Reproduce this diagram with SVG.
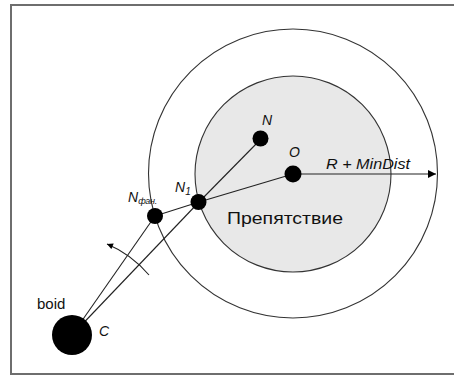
<svg xmlns="http://www.w3.org/2000/svg" width="454" height="376" viewBox="0 0 454 376">
<style>
.frame{fill:none;stroke:#6e6e6e;stroke-width:2}
.ring{fill:none;stroke:#333;stroke-width:1.1}
.obst{fill:#e8e8e8;stroke:#333;stroke-width:1.1}
.dot{fill:#000}
.ln{stroke:#222;stroke-width:1.1;fill:none}
.lbl{font-family:"Liberation Sans",Arial,sans-serif;fill:#111}
.it{font-style:italic}
</style>
<defs>
<marker id="ah" viewBox="0 0 10 10" refX="10" refY="5" markerWidth="10" markerHeight="8" markerUnits="userSpaceOnUse" orient="auto">
<path d="M0,0 L10,5 L0,10 Z" fill="#000"/>
</marker>
<marker id="ah2" viewBox="0 0 10 10" refX="10" refY="5" markerWidth="8" markerHeight="6" markerUnits="userSpaceOnUse" orient="auto">
<path d="M0,0 L10,5 L0,10 Z" fill="#000"/>
</marker>
</defs>
<rect class="frame" x="11" y="5" width="446" height="369"/>
<g id="zone">
<circle class="ring" cx="293" cy="173.5" r="144.5"/>
</g>
<g id="obstacle">
<circle class="obst" cx="293" cy="174" r="98"/>
<text class="lbl" x="227" y="224" font-size="16" textLength="116" lengthAdjust="spacingAndGlyphs">Препятствие</text>
</g>
<g id="connectors">
<line class="ln" x1="199" y1="202" x2="261" y2="139"/>
<line class="ln" x1="199" y1="202" x2="293" y2="174"/>
<line class="ln" x1="199" y1="202" x2="155" y2="216"/>
<line class="ln" x1="72" y1="335" x2="199" y2="202"/>
<line class="ln" x1="72" y1="335" x2="155" y2="216"/>
<line class="ln" x1="293" y1="174" x2="436" y2="174" marker-end="url(#ah)"/>
<path class="ln" d="M149,275 Q131,254 107,244" marker-end="url(#ah2)"/>
</g>
<g id="node-O">
<circle class="dot" cx="293" cy="174" r="8.5"/>
<text class="lbl it" x="289" y="157" font-size="14">O</text>
</g>
<g id="label-R">
<text class="lbl it" x="326" y="169" font-size="15.5" textLength="84" lengthAdjust="spacingAndGlyphs">R + MinDist</text>
</g>
<g id="node-N">
<circle class="dot" cx="260.5" cy="138.5" r="8"/>
<text class="lbl it" x="262" y="125" font-size="14">N</text>
</g>
<g id="node-N1">
<circle class="dot" cx="198.5" cy="202" r="8"/>
<text class="lbl it" x="175" y="192" font-size="14">N<tspan font-size="10" dy="3">1</tspan></text>
</g>
<g id="node-Nfan">
<circle class="dot" cx="155" cy="216" r="8"/>
<text class="lbl it" x="128" y="202" font-size="14">N<tspan font-size="9" dy="2" letter-spacing="-0.3">фан.</tspan></text>
</g>
<g id="node-boid">
<circle class="dot" cx="72" cy="335" r="20"/>
<text class="lbl" x="37" y="309" font-size="15">boid</text>
<text class="lbl it" x="99" y="336" font-size="14">C</text>
</g>
</svg>
